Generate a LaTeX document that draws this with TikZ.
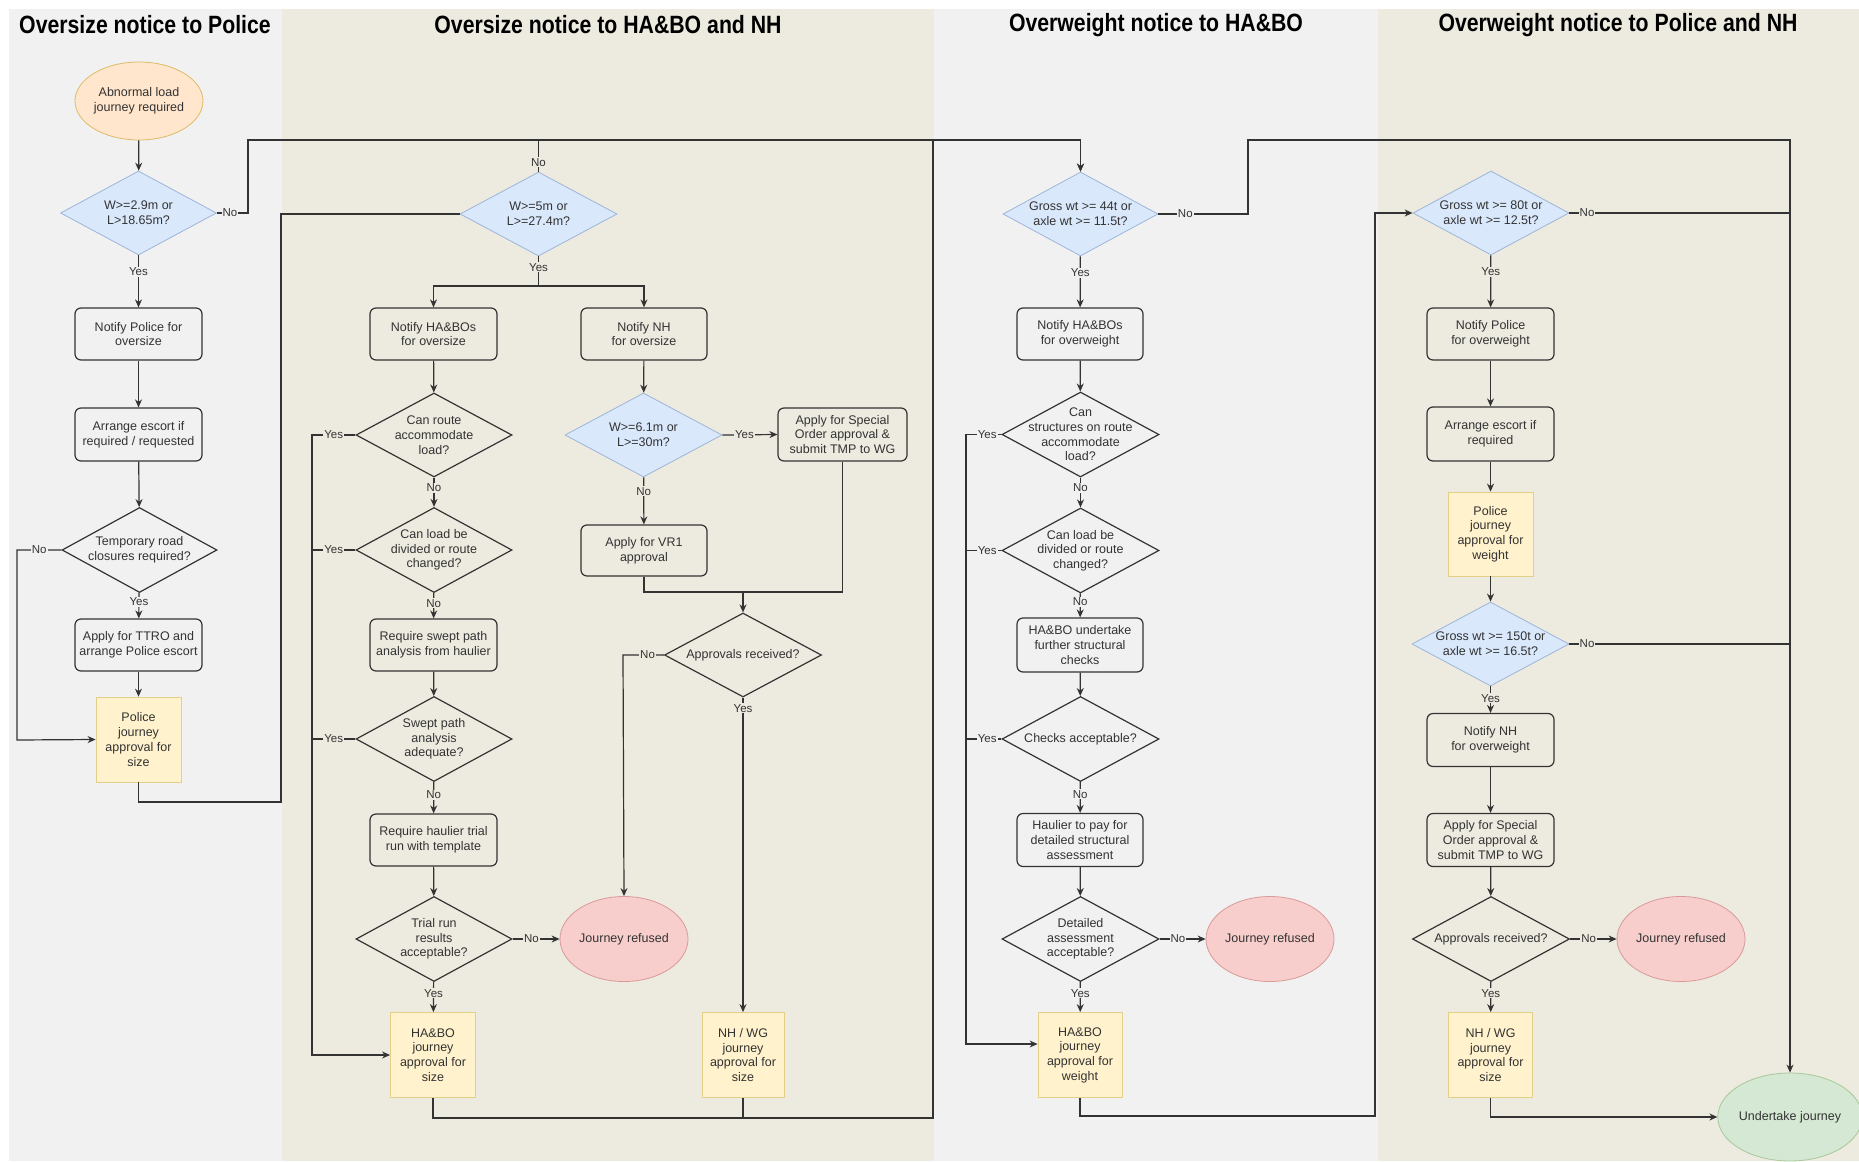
\documentclass[tikz,border=0pt]{standalone}
\usepackage{fontspec}
\setmainfont{Liberation Sans}
\newfontfamily\headfont{Liberation Sans}[FakeStretch=0.85]
\usetikzlibrary{shapes.geometric,arrows.meta}
\definecolor{laneA}{HTML}{F1F1F1}
\definecolor{laneB}{HTML}{EDEAE0}
\definecolor{ln}{HTML}{333333}
\definecolor{txt}{HTML}{333333}
\definecolor{blueF}{HTML}{DAE8FC}
\definecolor{blueD}{HTML}{9DB5D8}
\definecolor{apprF}{HTML}{FFF2CC}
\definecolor{apprD}{HTML}{E2CF88}
\definecolor{orF}{HTML}{FFE6CC}
\definecolor{orD}{HTML}{DDBB66}
\definecolor{redF}{HTML}{F8CECC}
\definecolor{redD}{HTML}{D99A98}
\definecolor{grF}{HTML}{D5E8D4}
\definecolor{grD}{HTML}{A8C89A}
\begin{document}
\begin{tikzpicture}[x=1pt,y=-1pt,
  base/.style={font=\fontsize{12.5}{14.7}\selectfont, text=txt, align=center, inner sep=0pt},
  proc/.style={base, rectangle, draw=ln, line width=1.2pt, rounded corners=6pt, minimum width=127pt, minimum height=52pt},
  appr/.style={base, rectangle, draw=apprD, fill=apprF, line width=0.8pt, minimum width=85pt, minimum height=85pt},
  dec/.style={diamond, draw=ln, line width=1.2pt, minimum width=156pt, minimum height=84pt, inner sep=0pt},
  bdec/.style={dec, draw=blueD, fill=blueF, line width=0.8pt},
  term/.style={base, ellipse, line width=0.8pt, minimum width=128pt, minimum height=85pt},
  head/.style={font=\headfont\bfseries\fontsize{25}{30}\selectfont, text=black, inner sep=0pt},
  conn/.style={draw=ln, line width=1.2pt},
  arr/.style={conn, -{Stealth[length=8pt,width=7pt]}},
  lblA/.style={font=\fontsize{11.5}{13}\selectfont, text=txt, fill=laneA, inner sep=1pt},
  lblB/.style={font=\fontsize{11.5}{13}\selectfont, text=txt, fill=laneB, inner sep=1pt}
]
\useasboundingbox (0,0) rectangle (1859,1161);
\fill[white] (0,0) rectangle (1859,1161);
% lanes
\fill[laneA] (9,9) rectangle (282,1161);
\fill[laneB] (282,9) rectangle (934,1161);
\fill[laneA] (934,9) rectangle (1378,1161);
\fill[laneB] (1378,9) rectangle (1859,1161);
\node[head] (h1) at (145,25) {Oversize notice to Police};
\node[head] (h2) at (608,25) {Oversize notice to HA\&BO and NH};
\node[head] (h3) at (1156,25) {Overweight notice to HA\&BO};
\node[head] (h4) at (1618,25) {Overweight notice to Police and NH};

% ---------- lane 1 ----------
\node[term, draw=orD, fill=orF, minimum height=78pt] (start) at (139,101) {Abnormal load\\journey required};
\node[bdec] (d1) at (138.5,213) {};
\node[base] (d1t) at (d1) {W>=2.9m or\\L>18.65m?};
\node[proc] (p1) at (138.5,334) {Notify Police for\\oversize};
\node[proc, minimum height=53pt] (p2) at (138.5,434.5) {Arrange escort if\\required / requested};
\node[dec, minimum width=155pt, minimum height=85pt] (d2) at (139.5,550) {};
\node[base] (d2t) at (d2) {Temporary road\\closures required?};
\node[proc] (p3) at (138.5,645) {Apply for TTRO and\\arrange Police escort};
\node[appr] (a1) at (138.5,739.5) {Police\\journey\\approval for\\size};

% ---------- lane 2 ----------
\node[bdec, minimum width=157pt] (dW5) at (538.5,214) {};
\node[base] (dW5t) at (dW5) {W>=5m or\\L>=27.4m?};
\node[proc] (p4) at (433.5,334) {Notify HA\&BOs\\for oversize};
\node[proc, minimum width=126pt] (p5) at (644,334) {Notify NH\\for oversize};
\node[dec] (d3) at (434,435) {};
\node[base] (d3t) at (d3) {Can route\\accommodate\\load?};
\node[dec, minimum height=85pt] (d4) at (434,550) {};
\node[base] (d4t) at (d4) {Can load be\\divided or route\\changed?};
\node[proc] (p6) at (433.5,645) {Require swept path\\analysis from haulier};
\node[dec, minimum height=85pt] (d5) at (434,739) {};
\node[base] (d5t) at (d5) {Swept path\\analysis\\adequate?};
\node[proc] (p7) at (433.5,840) {Require haulier trial\\run with template};
\node[dec, minimum height=85pt] (d6) at (434,939) {};
\node[base] (d6t) at (d6) {Trial run\\results\\acceptable?};
\node[term, draw=redD, fill=redF] (r1) at (624,939) {Journey refused};
\node[appr] (a2) at (433,1055) {HA\&BO\\journey\\approval for\\size};
\node[bdec, minimum width=157pt] (d7) at (643.5,435) {};
\node[base] (d7t) at (d7) {W>=6.1m or\\L>=30m?};
\node[proc, minimum width=126pt, minimum height=51pt] (p8) at (644,550.5) {Apply for VR1\\approval};
\node[proc, minimum width=129pt, minimum height=53pt] (p9) at (842.5,434.5) {Apply for Special\\Order approval \&\\submit TMP to WG};
\node[dec, minimum width=157pt] (d8) at (743,655) {};
\node[base] (d8t) at (d8) {Approvals received?};
\node[appr, minimum width=82pt] (a3) at (743,1055) {NH / WG\\journey\\approval for\\size};

% ---------- lane 3 ----------
\node[bdec, minimum width=155pt] (dw44) at (1080.5,214) {};
\node[base] (dw44t) at (dw44) {Gross wt >= 44t or\\axle wt >= 11.5t?};
\node[proc, minimum width=126pt] (p10) at (1080,334) {Notify HA\&BOs\\for overweight};
\node[dec, minimum width=157pt, minimum height=85pt] (d9) at (1080.5,434.5) {};
\node[base] (d9t) at (d9) {Can\\structures on route\\accommodate\\load?};
\node[dec, minimum width=157pt, minimum height=85pt] (d10) at (1080.5,550.5) {};
\node[base] (d10t) at (d10) {Can load be\\divided or route\\changed?};
\node[proc, minimum width=126pt, minimum height=54pt] (p11) at (1080,645) {HA\&BO undertake\\further structural\\checks};
\node[dec, minimum width=157pt, minimum height=85pt] (d11) at (1080.5,739) {};
\node[base] (d11t) at (d11) {Checks acceptable?};
\node[proc, minimum width=126pt, minimum height=53pt] (p12) at (1080,840) {Haulier to pay for\\detailed structural\\assessment};
\node[dec, minimum width=157pt, minimum height=85pt] (d12) at (1080.5,939) {};
\node[base] (d12t) at (d12) {Detailed\\assessment\\acceptable?};
\node[term, draw=redD, fill=redF] (r2) at (1270,939) {Journey refused};
\node[appr, minimum width=84pt] (a4) at (1080,1055) {HA\&BO\\journey\\approval for\\weight};

% ---------- lane 4 ----------
\node[bdec] (dw80) at (1491,213) {};
\node[base] (dw80t) at (dw80) {Gross wt >= 80t or\\axle wt >= 12.5t?};
\node[proc] (p13) at (1490.5,334) {Notify Police\\for overweight};
\node[proc, minimum height=54pt] (p14) at (1490.5,434) {Arrange escort if\\required};
\node[appr, minimum height=84pt] (a5) at (1490.5,534) {Police\\journey\\approval for\\weight};
\node[bdec, minimum width=157pt] (dw150) at (1490.5,644) {};
\node[base] (dw150t) at (dw150) {Gross wt >= 150t or\\axle wt >= 16.5t?};
\node[proc, minimum height=53pt] (p15) at (1490.5,740) {Notify NH\\for overweight};
\node[proc, minimum height=53pt] (p16) at (1490.5,840) {Apply for Special\\Order approval \&\\submit TMP to WG};
\node[dec, minimum width=157pt, minimum height=85pt] (d13) at (1491,939) {};
\node[base] (d13t) at (d13) {Approvals received?};
\node[term, draw=redD, fill=redF] (r3) at (1681,939) {Journey refused};
\node[appr, minimum width=84pt] (a6) at (1490.5,1055) {NH / WG\\journey\\approval for\\size};
\node[term, draw=grD, fill=grF, minimum width=130pt, minimum height=88pt] (u) at (1790,1117) {Undertake journey};

% ---------- connectors lane 1 ----------
\draw[arr] (start) -- (d1);
\draw[arr] (d1) -- node[lblA, pos=0.32]{Yes} (p1);
\draw[arr] (p1) -- (p2);
\draw[arr] (p2) -- (d2);
\draw[arr] (d2) -- node[lblA, pos=0.35]{Yes} (p3);
\draw[arr] (p3) -- (a1);
\draw[arr] (d2.west) -- node[lblA, pos=0.5]{No} (17,550) -- (17,740) -- (a1.west);
\draw[arr] (d1.east) -- node[lblA, pos=0.42]{No} (248,213) -- (248,140) -| (dw44.north);
\draw[conn] (a1.south) -- (138.5,802) -- (281,802) -- (281,214) -- (dW5.west);

% ---------- connectors lane 2 ----------
\draw[conn] (dW5.north) -- node[lblB, pos=0.3]{No} (538.5,140);
\draw[conn] (dW5.south) -- node[lblB, pos=0.37]{Yes} (538.5,286);
\draw[arr] (538.5,286) -| (p4.north);
\draw[arr] (538.5,286) -| (p5.north);
\draw[arr] (p4) -- (d3);
\draw[arr] (d3) -- node[lblB, pos=0.35]{No} (d4);
\draw[arr] (d4) -- node[lblB, pos=0.4]{No} (p6);
\draw[arr] (p6) -- (d5);
\draw[arr] (d5) -- node[lblB, pos=0.4]{No} (p7);
\draw[arr] (p7) -- (d6);
\draw[arr] (d6) -- node[lblB, pos=0.38]{Yes} (a2);
\draw[arr] (d6.east) -- node[lblB, pos=0.4]{No} (r1.west);
\draw[arr] (d3.west) -- node[lblB, pos=0.5]{Yes} (312,435) -- (312,1055) -- (a2.west);
\draw[conn] (d4.west) -- node[lblB, pos=0.5]{Yes} (312,550);
\draw[conn] (d5.west) -- node[lblB, pos=0.5]{Yes} (312,739);
\draw[arr] (p5) -- (d7);
\draw[arr] (d7) -- node[lblB, pos=0.3]{No} (p8);
\draw[arr] (d7.east) -- node[lblB, pos=0.4]{Yes} (p9.west);
\draw[arr] (p8.south) -- (644,592) -| (d8.north);
\draw[conn] (p9.south) -- (842.5,592) -- (743,592);
\draw[arr] (d8.west) -- node[lblB, pos=0.4]{No} (623,655) -- (r1.north);
\draw[arr] (d8) -- node[lblB, pos=0.034]{Yes} (a3);
\draw[arr] (a2.south) -- (433,1118) -- (933,1118) -- (933,140) -| (dw44.north);
\draw[conn] (a3.south) -- (743,1118);

% ---------- connectors lane 3 ----------
\draw[arr] (dw44) -- node[lblA, pos=0.32]{Yes} (p10);
\draw[arr] (p10) -- (d9);
\draw[arr] (d9) -- node[lblA, pos=0.35]{No} (d10);
\draw[arr] (d10) -- node[lblA, pos=0.35]{No} (p11);
\draw[arr] (p11) -- (d11);
\draw[arr] (d11) -- node[lblA, pos=0.4]{No} (p12);
\draw[arr] (p12) -- (d12);
\draw[arr] (d12) -- node[lblA, pos=0.38]{Yes} (a4);
\draw[arr] (d12.east) -- node[lblA, pos=0.4]{No} (r2.west);
\draw[arr] (d9.west) -- node[lblA, pos=0.4]{Yes} (966,434.5) -- (966,1044) -- ([yshift=11pt]a4.west);
\draw[conn] (d10.west) -- node[lblA, pos=0.4]{Yes} (966,550.5);
\draw[conn] (d11.west) -- node[lblA, pos=0.4]{Yes} (966,739);
\draw[arr] (dw44.east) -- node[lblA, pos=0.3]{No} (1248,214) -- (1248,140) -- (1790,140) -- (u.north);
\draw[arr] (a4.south) -- (1080,1116) -- (1375,1116) -- (1375,213) -- (dw80.west);

% ---------- connectors lane 4 ----------
\draw[arr] (dw80) -- node[lblB, pos=0.32]{Yes} (p13);
\draw[arr] (p13) -- (p14);
\draw[arr] (p14) -- (a5);
\draw[arr] (a5) -- (dw150);
\draw[arr] (dw150) -- node[lblB, pos=0.45]{Yes} (p15);
\draw[arr] (p15) -- (p16);
\draw[arr] (p16) -- (d13);
\draw[arr] (d13) -- node[lblB, pos=0.38]{Yes} (a6);
\draw[arr] (d13.east) -- node[lblB, pos=0.4]{No} (r3.west);
\draw[conn] (dw80.east) -- node[lblB, pos=0.08]{No} (1790,213);
\draw[conn] (dw150.east) -- node[lblB, pos=0.08]{No} (1790,644);
\draw[arr] (a6.south) -- (1490.5,1117) -- (u.west);
\end{tikzpicture}
\end{document}
